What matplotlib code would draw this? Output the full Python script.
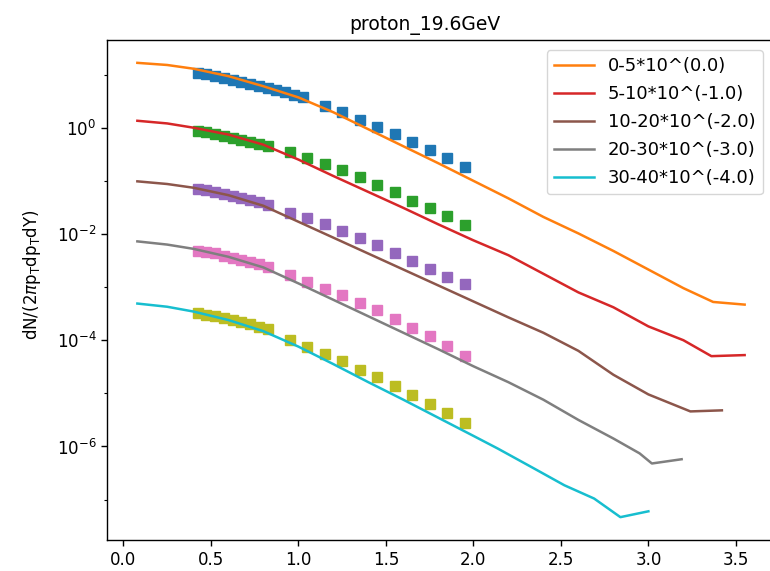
import numpy as np
import matplotlib
matplotlib.use("Agg")
import matplotlib.pyplot as plt
from matplotlib.ticker import FixedLocator

# ---------------- data ----------------
labels = ["0-5*10^(0.0)", "5-10*10^(-1.0)", "10-20*10^(-2.0)",
          "20-30*10^(-3.0)", "30-40*10^(-4.0)"]

# measured points (square markers), x = pT
x_dense_0 = [0.425, 0.475, 0.525, 0.575, 0.625, 0.675, 0.725, 0.775, 0.825,
             0.875, 0.925, 0.975, 1.025]
x_sparse_0 = [1.15, 1.25, 1.35, 1.45, 1.55, 1.65, 1.75, 1.85, 1.95]
x_dense = [0.425, 0.475, 0.525, 0.575, 0.625, 0.675, 0.725, 0.775, 0.825]
x_sparse = [0.95, 1.05, 1.15, 1.25, 1.35, 1.45, 1.55, 1.65, 1.75, 1.85, 1.95]

data_x = [x_dense_0 + x_sparse_0,
          x_dense + x_sparse,
          x_dense + x_sparse,
          x_dense + x_sparse,
          x_dense + x_sparse]

# log10 of the (scaled) yields
data_log0 = [1.034, 1.006, 0.977, 0.940, 0.902, 0.865, 0.827, 0.789, 0.752,
             0.705, 0.667, 0.620, 0.573,
             0.414, 0.288, 0.150, 0.019, -0.118, -0.276, -0.419, -0.577, -0.746]
data_log1 = [-0.056, -0.085, -0.113, -0.150, -0.188, -0.226, -0.263, -0.301, -0.348,
             -0.464, -0.570, -0.682, -0.795, -0.934, -1.071, -1.216, -1.372,
             -1.517, -1.667, -1.823]
data_log2 = [-1.147, -1.175, -1.203, -1.241, -1.278, -1.316, -1.353, -1.400, -1.447,
             -1.603, -1.705, -1.810, -1.936, -2.073, -2.209, -2.359, -2.500,
             -2.656, -2.801, -2.951]
data_log3 = [-2.312, -2.340, -2.368, -2.406, -2.444, -2.481, -2.519, -2.566, -2.613,
             -2.782, -2.908, -3.032, -3.158, -3.303, -3.440, -3.596, -3.765,
             -3.929, -4.111, -4.299]
data_log4 = [-3.496, -3.524, -3.553, -3.590, -3.628, -3.665, -3.703, -3.750, -3.797,
             -4.004, -4.130, -4.267, -4.398, -4.555, -4.693, -4.863, -5.024,
             -5.194, -5.370, -5.551]
data_log = [data_log0, data_log1, data_log2, data_log3, data_log4]

# model curves (lines)
line_x0 = [0.08, 0.25, 0.4, 0.6, 0.8, 1.0, 1.2, 1.4, 1.6, 1.8, 2.0, 2.2, 2.4,
           2.6, 2.8, 3.0, 3.2, 3.37, 3.55]
line_log0 = [1.22, 1.18, 1.11, 0.97, 0.78, 0.57, 0.29, -0.03, -0.35, -0.67, -1.0,
             -1.33, -1.68, -1.99, -2.32, -2.67, -3.02, -3.28, -3.33]
line_x1 = [0.08, 0.25, 0.4, 0.6, 0.8, 1.0, 1.2, 1.4, 1.6, 1.8, 2.0, 2.2, 2.4,
           2.6, 2.8, 3.0, 3.2, 3.36, 3.55]
line_log1 = [0.13, 0.08, 0.0, -0.13, -0.32, -0.60, -0.91, -1.21, -1.51, -1.82,
             -2.12, -2.40, -2.75, -3.10, -3.38, -3.74, -4.00, -4.30, -4.28]
line_x2 = [0.08, 0.25, 0.4, 0.6, 0.8, 1.0, 1.2, 1.4, 1.6, 1.8, 2.0, 2.2, 2.4,
           2.6, 2.8, 3.0, 3.24, 3.42]
line_log2 = [-1.01, -1.06, -1.13, -1.27, -1.47, -1.77, -2.07, -2.37, -2.67,
             -2.97, -3.27, -3.57, -3.86, -4.20, -4.65, -5.02, -5.34, -5.32]
line_x3 = [0.08, 0.25, 0.4, 0.6, 0.8, 1.0, 1.2, 1.4, 1.6, 1.8, 2.0, 2.2, 2.4,
           2.6, 2.8, 2.95, 3.02, 3.19]
line_log3 = [-2.14, -2.20, -2.28, -2.43, -2.63, -2.93, -3.24, -3.55, -3.86,
             -4.17, -4.49, -4.79, -5.12, -5.50, -5.85, -6.13, -6.32, -6.24]
line_x4 = [0.08, 0.25, 0.4, 0.6, 0.8, 1.0, 1.2, 1.4, 1.6, 1.8, 2.0, 2.14, 2.35,
           2.52, 2.69, 2.84, 3.0]
line_log4 = [-3.31, -3.37, -3.46, -3.62, -3.83, -4.12, -4.45, -4.79, -5.12,
             -5.46, -5.80, -6.04, -6.42, -6.73, -6.98, -7.33, -7.22]
line_x = [line_x0, line_x1, line_x2, line_x3, line_x4]
line_log = [line_log0, line_log1, line_log2, line_log3, line_log4]

data_colors = ["C0", "C2", "C4", "C6", "C8"]
line_colors = ["C1", "C3", "C5", "C7", "C9"]

y_major = [1e-6, 1e-4, 1e-2, 1e0]
y_minor = [1e-7, 1e-5, 1e-3, 1e-1, 1e1]
x_ticks = [0.0, 0.5, 1.0, 1.5, 2.0, 2.5, 3.0, 3.5]

# ---------------- figure ----------------
W, H = 770, 571
fig = plt.figure(figsize=(W / 100, H / 100), dpi=100)
ax_l, ax_r, ax_t, ax_b = 107, 775, 40, 540
ax = fig.add_axes([ax_l / W, 1 - ax_b / H, (ax_r - ax_l) / W, (ax_b - ax_t) / H])

for i in range(5):
    ax.plot(data_x[i], 10 ** np.array(data_log[i]), "s", color=data_colors[i],
            markersize=7.4)
    ax.plot(line_x[i], 10 ** np.array(line_log[i]), "-", color=line_colors[i],
            linewidth=1.8, label=labels[i])

ax.set_yscale("log")
ax.set_xlim(-0.0935, 3.7235)
ax.set_ylim(10 ** -7.76, 10 ** 1.65)
ax.set_xticks(x_ticks)
ax.set_yticks(y_major)
ax.yaxis.set_minor_locator(FixedLocator(y_minor))
ax.tick_params(labelsize=12, length=4.2, width=1.0)
ax.tick_params(which="minor", length=2.4, width=0.8, labelleft=False)
for s in ax.spines.values():
    s.set_linewidth(1.0)
ax.spines["right"].set_visible(False)

ax.set_title("proton_19.6GeV", fontsize=13.5, pad=7,
             x=(425 - ax_l) / (ax_r - ax_l))
ax.set_ylabel(r"dN/(2$\pi$p$_\mathrm{T}$dp$_\mathrm{T}$dY)", fontsize=12)
ax.yaxis.set_label_coords((43 - ax_l) / (ax_r - ax_l), (ax_b - 275) / (ax_b - ax_t))

ax.legend(loc="upper right", bbox_to_anchor=(763 / W, 1 - 50 / H),
          bbox_transform=fig.transFigure, borderaxespad=0, fontsize=13,
          labelspacing=0.55, handlelength=2.2)

fig.savefig("out.png", dpi=100)
